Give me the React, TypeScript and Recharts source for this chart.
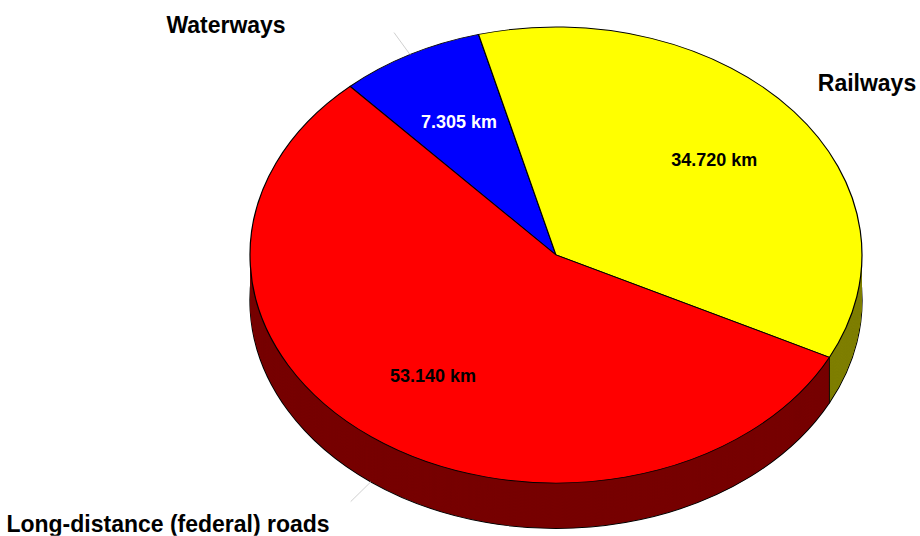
import { PieChart, Pie, Cell } from 'recharts'

const categories = ['Waterways', 'Railways', 'Long-distance (federal) roads']
const lengthsKm = [7305, 34720, 53140]
const valueLabels = ['7.305 km', '34.720 km', '53.140 km']

const TOP_COLORS = ['#0000ff', '#ffff00', '#ff0000']
const SIDE_COLORS = ['#00007a', '#7f7f00', '#770000']
const VALUE_TEXT = ['#ffffff', '#000000', '#000000']

const data = categories.map((name, i) => ({ name, value: lengthsKm[i] }))

const W = 920
const H = 536
// the pie is drawn round and squashed vertically to look tilted
const RX = 306
const RY = 228
const K = RY / RX
const MARGIN = 5 // recharts' default chart margin, added to cx / cy
const CX = 556 - MARGIN
const CY = 255 / K - MARGIN
const DEPTH = 45 / K
const START = 132.3
const RAD = Math.PI / 180
const FONT = '"Liberation Sans", Arial, Helvetica, sans-serif'

// where the category names sit, relative to the pie centre (screen px)
const NAME_OFFSETS = [[-330, -230], [311, -172], [-388, 269]]
const SHOW_LEADER = [true, false, true]

const steps = Math.ceil(DEPTH)
const layers = Array.from({ length: steps }, (_, i) => steps - i) // deepest first

function Flat({ x, y, children, ...rest }: any) {
  return (
    <text
      transform={`translate(${x},${y}) scale(1,${1 / K})`}
      textAnchor="middle"
      dominantBaseline="central"
      fontFamily={FONT}
      fontWeight="bold"
      {...rest}
    >
      {children}
    </text>
  )
}

function renderLabel(props: any) {
  const { cx, cy, midAngle, outerRadius, index, startAngle } = props
  const cos = Math.cos(midAngle * RAD)
  const sin = -Math.sin(midAngle * RAD)
  const drop = sin > 0 ? DEPTH : 0
  const [ox, oy] = NAME_OFFSETS[index]
  const sCos = Math.cos(startAngle * RAD)
  const sSin = -Math.sin(startAngle * RAD)
  return (
    <g>
      {sSin > 0 && (
        <line
          x1={cx + outerRadius * sCos}
          y1={cy + outerRadius * sSin}
          x2={cx + outerRadius * sCos}
          y2={cy + outerRadius * sSin + DEPTH}
          stroke="#000"
          strokeWidth={1}
        />
      )}
      {SHOW_LEADER[index] && (
        <line
          x1={cx + outerRadius * cos}
          y1={cy + outerRadius * sin + drop}
          x2={cx + outerRadius * 1.11 * cos}
          y2={cy + outerRadius * 1.11 * sin + drop}
          stroke="#c8c8c8"
          strokeWidth={1}
        />
      )}
      <Flat
        x={cx + outerRadius * 0.665 * cos}
        y={cy + outerRadius * 0.665 * sin}
        fontSize={18}
        fill={VALUE_TEXT[index]}
      >
        {valueLabels[index]}
      </Flat>
      <Flat x={cx + ox} y={cy + oy / K} fontSize={23} fill="#000">
        {categories[index]}
      </Flat>
    </g>
  )
}

export default function App() {
  return (
    <div style={{ position: 'absolute', left: 0, top: 0, width: W, height: H, overflow: 'hidden', background: '#fff' }}>
      <div style={{ transform: `scaleY(${K})`, transformOrigin: 'top left' }}>
        <PieChart width={W} height={H / K}>
          {layers.map((d) => (
            <Pie
              key={d}
              data={data}
              dataKey="value"
              nameKey="name"
              cx={CX}
              cy={CY + d}
              outerRadius={RX}
              startAngle={START}
              endAngle={START - 360}
              stroke={d === steps ? '#000' : 'none'}
              strokeWidth={1.3}
              label={false}
              labelLine={false}
              isAnimationActive={false}
            >
              {data.map((_, i) => (
                <Cell key={i} fill={SIDE_COLORS[i]} />
              ))}
            </Pie>
          ))}
          <Pie
            data={data}
            dataKey="value"
            nameKey="name"
            cx={CX}
            cy={CY}
            outerRadius={RX}
            startAngle={START}
            endAngle={START - 360}
            stroke="#000"
            strokeWidth={1.2}
            label={renderLabel}
            labelLine={false}
            isAnimationActive={false}
          >
            {data.map((_, i) => (
              <Cell key={i} fill={TOP_COLORS[i]} />
            ))}
          </Pie>
        </PieChart>
      </div>
    </div>
  )
}
